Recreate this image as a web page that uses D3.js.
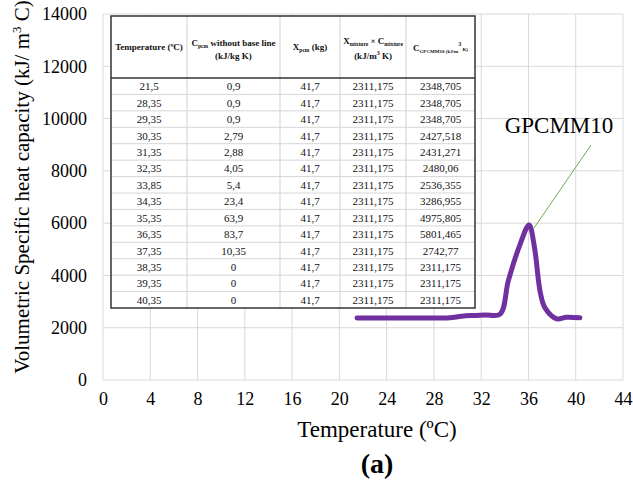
<!DOCTYPE html>
<html><head><meta charset="utf-8">
<script src="https://cdn.jsdelivr.net/npm/d3@7"></script>
<style>
html,body{margin:0;padding:0;background:#fff;}
svg{display:block;font-family:"Liberation Serif","Times New Roman",serif;}
</style></head>
<body>
<svg id="chart" width="633" height="481"></svg>
<script>
// ---- data ----
const xTicks = [0,4,8,12,16,20,24,28,32,36,40,44];
const yTicks = [0,2000,4000,6000,8000,10000,12000,14000];
// plotted curve
const curveTemp = [21.5, 28.35, 29.35, 30.35, 31.35, 32.35, 33.6, 34.3, 35.3, 36.05, 36.5, 37.0, 37.4, 38.4, 39.2, 40.35];
const curveVal  = [2370, 2370, 2380, 2440, 2470, 2490, 2520, 3800, 5200, 5930, 5100, 3350, 2760, 2340, 2400, 2380];
const seriesName = "GPCMM10";
// table contents
const tTemp = ["21,5","28,35","29,35","30,35","31,35","32,35","33,85","34,35","35,35","36,35","37,35","38,35","39,35","40,35"];
const tCpcm = ["0,9","0,9","0,9","2,79","2,88","4,05","5,4","23,4","63,9","83,7","10,35","0","0","0"];
const tXpcm = ["41,7","41,7","41,7","41,7","41,7","41,7","41,7","41,7","41,7","41,7","41,7","41,7","41,7","41,7"];
const tXmix = ["2311,175","2311,175","2311,175","2311,175","2311,175","2311,175","2311,175","2311,175","2311,175","2311,175","2311,175","2311,175","2311,175","2311,175"];
const tCg   = ["2348,705","2348,705","2348,705","2427,518","2431,271","2480,06","2536,355","3286,955","4975,805","5801,465","2742,77","2311,175","2311,175","2311,175"];

const svg = d3.select("#chart");
const L=103, R=623, T=14, B=380;
const x = d3.scaleLinear().domain([0,44]).range([L,R]);
const y = d3.scaleLinear().domain([0,14000]).range([B,T]);

// gridlines
const grid = svg.append("g");
grid.selectAll("line.v").data(xTicks).join("line")
  .attr("x1",d=>x(d)).attr("x2",d=>x(d)).attr("y1",T).attr("y2",B)
  .attr("stroke","#d9d9d9").attr("stroke-width",1);
grid.selectAll("line.h").data(yTicks).join("line")
  .attr("y1",d=>y(d)).attr("y2",d=>y(d)).attr("x1",L).attr("x2",R)
  .attr("stroke","#d9d9d9").attr("stroke-width",1);

// axes (text only)
const xAxis = d3.axisBottom(x).tickValues(xTicks).tickSize(0).tickPadding(12).tickFormat(d3.format("d"));
const gx = svg.append("g").attr("transform",`translate(0,${B})`).call(xAxis);
gx.select(".domain").remove();
gx.selectAll("text").attr("font-family","Liberation Serif").attr("font-size",18).attr("fill","#000");
const yAxis = d3.axisLeft(y).tickValues(yTicks).tickSize(0).tickPadding(16).tickFormat(d3.format("d"));
const gy = svg.append("g").attr("transform",`translate(${L},0)`).call(yAxis);
gy.select(".domain").remove();
gy.selectAll("text").attr("font-family","Liberation Serif").attr("font-size",18).attr("fill","#000");

// axis titles
svg.append("text").attr("x",377).attr("y",437).attr("text-anchor","middle")
  .attr("font-size",23).text("Temperature (ºC)");
svg.append("text").attr("x",377).attr("y",473).attr("text-anchor","middle")
  .attr("font-size",28).attr("font-weight","bold").text("(a)");
const yl = svg.append("text").attr("transform","translate(29,187) rotate(-90)")
  .attr("text-anchor","middle").attr("font-size",21);
yl.append("tspan").text("Volumetric Specific heat capacity (kJ/ m");
yl.append("tspan").attr("font-size",13).attr("dy",-8).text("3");
yl.append("tspan").attr("dy",8).text(" C)");

// table
const tbl = svg.append("g");
const tL=111, tR=475, tT=16, tH=78, tB=308;
const colX = [tL,187,280,340,406,tR];
const rowH = (tB-tH)/tTemp.length;
tbl.append("rect").attr("x",tL).attr("y",tT).attr("width",tR-tL).attr("height",tB-tT).attr("fill","#fff");
for (let i=1;i<colX.length-1;i++){
  tbl.append("line").attr("x1",colX[i]).attr("x2",colX[i]).attr("y1",tT).attr("y2",tB).attr("stroke","#cfcfcf");
}
for (let i=1;i<tTemp.length;i++){
  tbl.append("line").attr("x1",tL).attr("x2",tR).attr("y1",tH+i*rowH).attr("y2",tH+i*rowH).attr("stroke","#d6d6d6");
}
tbl.append("line").attr("x1",tL).attr("x2",tR).attr("y1",tH).attr("y2",tH).attr("stroke","#333").attr("stroke-width",1.3);
tbl.append("rect").attr("x",tL).attr("y",tT).attr("width",tR-tL).attr("height",tB-tT)
  .attr("fill","none").attr("stroke","#333").attr("stroke-width",1.5);

const cols=[tTemp,tCpcm,tXpcm,tXmix,tCg];
cols.forEach((col,ci)=>{
  const cx=(colX[ci]+colX[ci+1])/2;
  tbl.selectAll(null).data(col).join("text")
    .attr("x",cx).attr("y",(d,i)=>tH+i*rowH+rowH/2+4)
    .attr("text-anchor","middle").attr("font-size",11).attr("fill","#111").text(d=>d);
});
// headers
const hy=(tT+tH)/2;
const hf=9;
function head(cx, yy){ return tbl.append("text").attr("x",cx).attr("y",yy).attr("text-anchor","middle").attr("font-size",hf).attr("font-weight","bold").attr("fill","#111"); }
head((colX[0]+colX[1])/2, hy+3).text("Temperature (ºC)");
let h2=head((colX[1]+colX[2])/2, hy-1);
h2.append("tspan").text("C");
h2.append("tspan").attr("font-size",5.5).attr("dy",2).text("pcm");
h2.append("tspan").attr("dy",-2).text("  without base line");
head((colX[1]+colX[2])/2, hy+12).text("(kJ/kg K)");
let h3=head((colX[2]+colX[3])/2, hy+3);
h3.append("tspan").text("X");
h3.append("tspan").attr("font-size",5.5).attr("dy",2).text("pcm");
h3.append("tspan").attr("dy",-2).text("  (kg)");
let h4=head((colX[3]+colX[4])/2, hy-3);
h4.append("tspan").text("X");
h4.append("tspan").attr("font-size",5.5).attr("dy",2).text("mixture");
h4.append("tspan").attr("dy",-2).text(" × C");
h4.append("tspan").attr("font-size",5.5).attr("dy",2).text("mixture");
let h4b=head((colX[3]+colX[4])/2, hy+12);
h4b.append("tspan").attr("dy",0).text("(kJ/m");
h4b.append("tspan").attr("font-size",6).attr("dy",-4).text("3");
h4b.append("tspan").attr("dy",4).text(" K)");
let h5=head((colX[4]+colX[5])/2, hy+4);
h5.append("tspan").text("C");
h5.append("tspan").attr("font-size",5).attr("dy",2).text("GPCMM10 (kJ/m");
h5.append("tspan").attr("font-size",6).attr("dy",-7).text("3");
h5.append("tspan").attr("font-size",5).attr("dy",5).text("  K)");

// curve
const line = d3.line().x((d,i)=>x(curveTemp[i])).y(d=>y(d)).curve(d3.curveCatmullRom.alpha(0.5));
svg.append("path").datum(curveVal).attr("d",line).attr("fill","none")
  .attr("stroke","#7030A0").attr("stroke-width",5).attr("stroke-linecap","round").attr("stroke-linejoin","round");

// annotation
const pk = d3.maxIndex(curveVal);
svg.append("line").attr("x1",x(curveTemp[pk])+5).attr("y1",y(curveVal[pk])+3)
  .attr("x2",591).attr("y2",145).attr("stroke","#70AD47").attr("stroke-width",1);
svg.append("text").attr("x",559).attr("y",133).attr("text-anchor","middle")
  .attr("font-size",23).text(seriesName);
</script>
</body></html>
